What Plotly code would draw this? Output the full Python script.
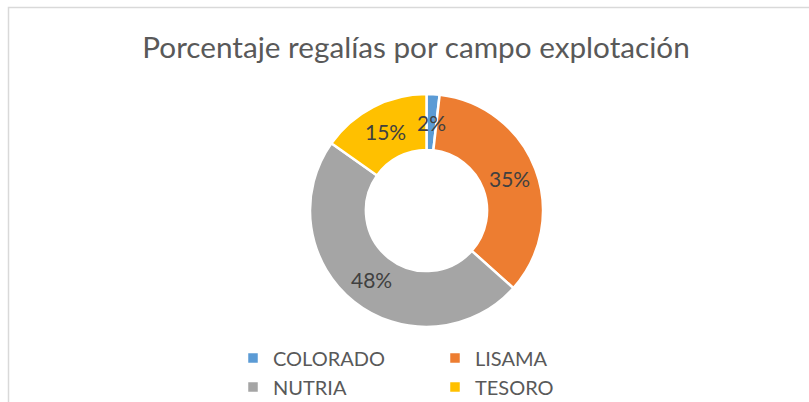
import math
import plotly.graph_objects as go

campos = ["COLORADO", "LISAMA", "NUTRIA", "TESORO"]
porcentajes = [1.8, 34.8, 48.2, 15.2]
colores = ["#5B9BD5", "#ED7D31", "#A5A5A5", "#FFC000"]

W, H = 809, 402
FONT = "Lato"
ML, MR = 200, 159
PW = W - ML - MR

def px(x):
    return (x - ML) / PW

def py(y):
    return 1 - y / H

# donut geometry (pixels)
CX, CY, R = 426.5, 210.5, 116.5
HOLE = 0.52

fig = go.Figure(go.Pie(
    labels=campos,
    values=porcentajes,
    hole=HOLE,
    sort=False,
    direction="clockwise",
    rotation=0,
    marker=dict(colors=colores, line=dict(color="white", width=2.5)),
    textinfo="none",
    domain=dict(x=[px(CX - R), px(CX + R)], y=[py(CY + R), py(CY - R)]),
    hoverinfo="label+percent",
))

# data labels at mid-ring, mid-angle of each slice (Excel style)
total = sum(porcentajes)
rmid = R * (1 + HOLE) / 2
cum = 0.0
annots = []
for v in porcentajes:
    ang = 2 * math.pi * (cum + v / 2) / total
    cum += v
    annots.append(dict(
        x=px(CX + rmid * math.sin(ang)), y=py(CY - rmid * math.cos(ang)),
        xref="paper", yref="paper", showarrow=False,
        text=f"{round(100 * v / total)}%",
        font=dict(family=FONT, size=21, color="#404040"),
        xanchor="center", yanchor="middle"))

fig.update_layout(
    width=W, height=H,
    margin=dict(l=ML, r=MR, t=0, b=0, pad=0, autoexpand=False),
    paper_bgcolor="white",
    plot_bgcolor="white",
    title=dict(text="Porcentaje regalías por campo explotación",
               x=416 / W, xanchor="center", y=1 - 48 / H, yanchor="middle",
               font=dict(family=FONT, size=29.7, color="#595959")),
    annotations=annots,
    showlegend=True,
    legend=dict(orientation="h", x=px(233), xanchor="left", y=py(406.5), yanchor="bottom",
                entrywidth=157, entrywidthmode="pixels",
                font=dict(family=FONT, size=20, color="#595959"),
                itemclick=False, tracegroupgap=0, bgcolor="rgba(0,0,0,0)"),
    shapes=[dict(type="rect", xref="paper", yref="paper",
                 x0=px(8.5), x1=px(830), y0=py(420), y1=py(7.5),
                 line=dict(color="#D9D9D9", width=1.5), fillcolor="rgba(0,0,0,0)",
                 layer="below")],
)

fig.write_html("out.html",
               config={"displayModeBar": False},
               post_script="document.body.style.margin='0px';document.body.style.overflow='hidden';")
